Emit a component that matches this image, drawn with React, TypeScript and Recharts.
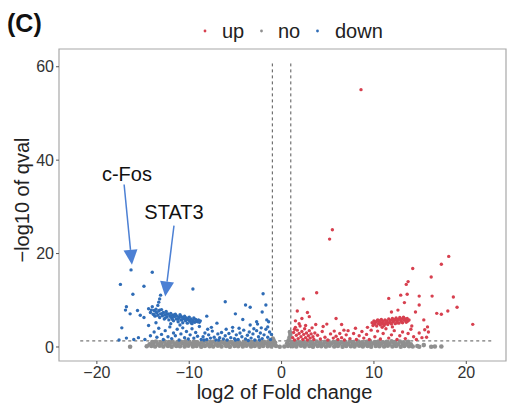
import { ScatterChart, Scatter, XAxis, YAxis, ReferenceLine, ReferenceArea, ReferenceDot, Legend } from "recharts";

// log2 fold change, -log10 q value
const upPts: [number, number][] = [
  [8.6, 55.1], [5.5, 25.1], [5.2, 23.1], [18.1, 19.4], [17.3, 17.7], [14.2, 16.8], [16.2, 15.0], [13.7, 14.0],
  [13.5, 13.4], [11.6, 10.4], [12.9, 11.1], [13.6, 11.3], [14.9, 10.9], [16.3, 10.9], [18.6, 10.7], [19.0, 8.5],
  [18.0, 7.7], [17.3, 7.0], [16.8, 7.2], [20.7, 4.85], [15.8, 4.3], [15.4, 5.8], [14.9, 9.0], [14.5, 7.5],
  [13.3, 9.5], [12.6, 7.9], [11.9, 7.5], [3.8, 11.6], [2.35, 10.3], [1.7, 7.7], [2.8, 7.4], [3.0, 6.5],
  [2.2, 6.1], [1.5, 5.6], [5.9, 6.1], [4.9, 4.9], [6.5, 4.8], [6.75, 3.6], [7.2, 3.5], [15.7, 2.1], [15.9, 3.2],
  [9.8, 5.2], [9.9, 4.6], [10.0, 5.6], [10.1, 4.9], [10.2, 5.3], [10.3, 4.5], [10.4, 5.8], [10.5, 5.0],
  [10.6, 5.4], [10.7, 4.7], [10.8, 5.9], [10.9, 5.1], [11.0, 5.5], [11.1, 4.6], [11.2, 5.8], [11.3, 5.2],
  [11.4, 5.6], [11.5, 4.8], [11.6, 6.0], [11.7, 5.3], [11.8, 5.7], [11.9, 4.9], [12.0, 6.1], [12.1, 5.4],
  [12.2, 5.8], [12.3, 5.0], [12.4, 6.2], [12.5, 5.5], [12.6, 5.9], [12.7, 5.1], [12.8, 6.3], [12.9, 5.6],
  [13.0, 6.0], [13.1, 5.2], [13.2, 6.4], [13.3, 5.7], [13.4, 5.9], [13.5, 5.3], [13.6, 6.1], [13.7, 5.6], [13.8, 5.8],
  [10.0, 5.0], [10.3, 5.5], [10.7, 5.3], [11.0, 4.9], [11.4, 5.3], [11.8, 5.2], [12.1, 5.7], [12.5, 5.2],
  [12.9, 5.9], [13.3, 6.1], [13.6, 5.5], [11.2, 5.0], [10.5, 5.7], [12.3, 5.9], [13.0, 5.4],
  [1.2, 2.0], [1.3, 3.1], [1.4, 1.5], [1.5, 4.2], [1.6, 2.5], [1.7, 3.6], [1.8, 1.8], [1.9, 2.9], [2.0, 4.5],
  [2.1, 2.2], [2.2, 3.3], [2.3, 1.6], [2.4, 2.7], [2.5, 3.9], [2.6, 2.0], [2.7, 3.0], [2.8, 1.5], [2.9, 2.4],
  [3.0, 3.5], [3.1, 1.9], [3.2, 2.8], [3.3, 4.1], [3.4, 2.2], [3.5, 1.6], [3.6, 3.0], [1.4, 3.8], [1.9, 5.0], [2.6, 4.6],
  [3.9, 2.5], [4.2, 1.7], [4.4, 3.3], [4.7, 2.1], [5.0, 1.5], [5.3, 2.8], [5.6, 1.9], [5.7, 3.4], [5.9, 2.3],
  [6.1, 1.6], [6.3, 2.9], [6.5, 2.0], [6.8, 1.5], [7.0, 2.6], [7.4, 1.8], [7.8, 2.9], [8.1, 1.6], [8.4, 2.4],
  [8.7, 3.3], [8.9, 1.9], [9.2, 2.7], [9.5, 1.6], [9.7, 3.6], [9.3, 4.2], [8.0, 4.0], [4.5, 4.4], [3.7, 4.8],
  [10.1, 2.2], [10.4, 3.4], [10.7, 1.7], [11.0, 2.9], [11.3, 3.9], [11.6, 1.9], [11.9, 2.6], [12.2, 3.5],
  [12.5, 1.6], [12.8, 2.4], [13.1, 3.2], [13.4, 1.8], [13.7, 2.9], [14.0, 3.8], [14.3, 2.2], [14.6, 1.6],
  [14.9, 3.0], [15.2, 2.0], [15.5, 3.7], [14.1, 4.5], [10.9, 4.2], [12.0, 4.3],
];

const noPts: [number, number][] = [
  [-14.6, 0.15], [-14.1, 0.2], [-13.7, 0.1], [-13.2, 0.25], [-12.8, 0.1], [-12.3, 0.2], [-11.9, 0.05], [-11.4, 0.2],
  [-11.0, 0.15], [-10.5, 0.1], [-10.1, 0.25], [-9.6, 0.1], [-9.2, 0.2], [-8.7, 0.05], [-8.3, 0.2], [-7.8, 0.15],
  [-7.4, 0.1], [-6.9, 0.25], [-6.5, 0.1], [-6.0, 0.2], [-5.6, 0.05], [-5.1, 0.2], [-4.7, 0.15], [-4.2, 0.1],
  [-3.8, 0.25], [-3.3, 0.1], [-2.9, 0.2], [-2.4, 0.05], [-2.0, 0.2], [-1.5, 0.15], [-1.1, 0.1], [-0.6, 0.2],
  [-0.2, 0.05], [0.3, 0.1], [0.7, 0.2], [1.2, 0.15], [1.6, 0.1], [2.1, 0.25], [2.5, 0.1], [3.0, 0.2], [3.4, 0.05],
  [3.9, 0.2], [4.3, 0.15], [4.8, 0.1], [5.2, 0.25], [5.7, 0.1], [6.1, 0.2], [6.6, 0.05], [7.0, 0.2], [7.5, 0.15],
  [7.9, 0.1], [8.4, 0.25], [8.8, 0.1], [9.3, 0.2], [9.7, 0.05], [10.2, 0.2], [10.6, 0.15], [11.1, 0.1], [11.5, 0.25],
  [12.0, 0.1], [12.4, 0.2], [12.9, 0.05], [13.3, 0.2], [13.8, 0.15], [14.2, 0.1], [14.7, 0.2],
  [-14.3, 0.6], [-13.9, 0.7], [-13.4, 0.55], [-13.0, 0.75], [-12.5, 0.6], [-12.1, 0.7], [-11.6, 0.55], [-11.2, 0.65],
  [-10.7, 0.75], [-10.3, 0.6], [-9.8, 0.7], [-9.4, 0.55], [-8.9, 0.65], [-8.5, 0.75], [-8.0, 0.6], [-7.6, 0.7],
  [-7.1, 0.55], [-6.7, 0.65], [-6.2, 0.75], [-5.8, 0.6], [-5.3, 0.7], [-4.9, 0.55], [-4.4, 0.65], [-4.0, 0.75],
  [-3.5, 0.6], [-3.1, 0.7], [-2.6, 0.55], [-2.2, 0.65], [-1.7, 0.75], [-1.3, 0.6], [-0.8, 0.5], [0.9, 0.5],
  [1.4, 0.6], [1.8, 0.7], [2.3, 0.55], [2.7, 0.65], [3.2, 0.75], [3.6, 0.6], [4.1, 0.7], [4.5, 0.55], [5.0, 0.65],
  [5.4, 0.75], [5.9, 0.6], [6.3, 0.7], [6.8, 0.55], [7.2, 0.65], [7.7, 0.75], [8.1, 0.6], [8.6, 0.7], [9.0, 0.55],
  [9.5, 0.65], [9.9, 0.75], [10.4, 0.6], [10.8, 0.7], [11.3, 0.55], [11.7, 0.65], [12.2, 0.75], [12.6, 0.6],
  [13.1, 0.7], [13.5, 0.55], [14.0, 0.6],
  [-14.0, 1.05], [-13.6, 1.15], [-13.1, 1.0], [-12.7, 1.2], [-12.2, 1.05], [-11.8, 1.15], [-11.3, 1.0], [-10.9, 1.1],
  [-10.4, 1.2], [-10.0, 1.05], [-9.5, 1.15], [-9.1, 1.0], [-8.6, 1.1], [-8.2, 1.2], [-7.7, 1.05], [-7.3, 1.15],
  [-6.8, 1.0], [-6.4, 1.1], [-5.9, 1.2], [-5.5, 1.05], [-5.0, 1.15], [-4.6, 1.0], [-4.1, 1.1], [-3.7, 1.2],
  [-3.2, 1.05], [-2.8, 1.15], [-2.3, 1.0], [-1.9, 1.1], [-1.4, 1.2], [-1.0, 1.05], [1.1, 1.05], [1.5, 1.15],
  [2.0, 1.0], [2.4, 1.1], [2.9, 1.2], [3.3, 1.05], [3.8, 1.15], [4.2, 1.0], [4.7, 1.1], [5.1, 1.2], [5.6, 1.05],
  [6.0, 1.15], [6.5, 1.0], [6.9, 1.1], [7.4, 1.2], [7.8, 1.05], [8.3, 1.15], [8.7, 1.0], [9.2, 1.1], [9.6, 1.2],
  [10.1, 1.05], [10.5, 1.15], [11.0, 1.0], [11.4, 1.1], [11.9, 1.2], [12.3, 1.05], [12.8, 1.15], [13.2, 1.0], [13.7, 1.1],
  [-0.7, 0.9], [-0.85, 1.4], [-0.95, 1.8], [0.6, 0.8], [0.75, 1.4], [0.85, 2.0], [0.95, 2.6], [0.9, 3.2],
  [-16.4, 0.05], [14.9, 0.05], [15.4, 0.4], [16.2, 0.05], [16.6, 0.1], [17.3, 0.1],
];

const downPts: [number, number][] = [
  [-16.3, 16.5], [-14.0, 16.0], [-17.45, 13.4], [-14.9, 13.0], [-16.1, 11.3], [-9.6, 12.4], [-13.1, 11.1],
  [-13.2, 10.3], [-13.3, 9.6], [-13.4, 8.9], [-6.1, 9.7], [-2.0, 11.4], [-3.9, 9.0], [-3.4, 8.5], [-1.7, 9.0],
  [-2.1, 7.5], [-5.0, 7.1], [-8.1, 6.6], [-16.8, 8.6], [-16.9, 7.9], [-16.4, 7.1], [-15.6, 7.8], [-15.3, 6.8],
  [-14.9, 6.3], [-17.3, 4.1], [-17.6, 1.5], [-16.8, 1.9], [-16.0, 1.6], [-4.2, 5.9], [-1.6, 5.8], [-1.4, 5.4],
  [-2.7, 5.4], [-7.0, 5.1], [-9.1, 5.4], [-8.8, 5.6], [-5.3, 4.2], [-3.4, 4.7], [-2.6, 4.9], [-4.6, 4.0],
  [-15.5, 2.0], [-14.8, 1.6],
  [-14.4, 8.2], [-14.2, 7.4], [-14.0, 8.6], [-13.9, 7.0], [-13.8, 7.8], [-13.7, 6.6], [-13.6, 8.1], [-13.5, 7.3],
  [-13.4, 6.8], [-13.3, 7.7], [-13.2, 6.3], [-13.1, 7.1], [-13.0, 8.0], [-12.9, 6.7], [-12.8, 7.4], [-12.7, 6.0],
  [-12.6, 6.9], [-12.5, 7.6], [-12.4, 6.4], [-12.3, 7.1], [-12.2, 5.8], [-12.1, 6.7], [-12.0, 7.2], [-11.9, 6.2],
  [-11.8, 6.8], [-11.7, 5.6], [-11.6, 6.5], [-11.5, 7.0], [-11.4, 6.0], [-11.3, 6.6], [-11.2, 5.4], [-11.1, 6.3],
  [-11.0, 6.9], [-10.9, 5.8], [-10.8, 6.4], [-10.7, 5.2], [-10.6, 6.1], [-10.5, 6.6], [-10.4, 5.6], [-10.3, 6.2],
  [-10.2, 5.1], [-10.1, 5.9], [-10.0, 6.4], [-9.9, 5.5], [-9.8, 6.0], [-9.7, 5.0], [-9.6, 5.7], [-9.5, 6.2],
  [-9.4, 5.3], [-9.3, 5.9], [-9.2, 5.5], [-9.0, 5.8], [-8.9, 5.3],
  [-14.1, 7.9], [-13.6, 7.5], [-13.2, 7.9], [-12.9, 7.2], [-12.4, 7.0], [-12.0, 6.5], [-11.6, 6.9], [-11.2, 6.0],
  [-10.8, 5.8], [-10.4, 6.0], [-10.0, 5.7], [-9.6, 5.4], [-13.8, 6.9], [-12.6, 6.2], [-11.8, 5.9], [-10.9, 6.6], [-9.8, 5.2],
  [-13.8, 3.2], [-13.5, 2.1], [-13.3, 4.0], [-13.0, 2.7], [-12.8, 1.6], [-12.6, 3.5], [-12.3, 2.2], [-12.1, 4.3],
  [-11.9, 1.8], [-11.7, 3.0], [-11.5, 2.4], [-11.3, 3.8], [-11.1, 1.5], [-10.9, 2.8], [-10.7, 4.1], [-10.5, 2.0],
  [-10.3, 3.3], [-10.1, 1.7], [-9.9, 2.6], [-9.7, 3.9], [-9.5, 1.9], [-9.3, 3.1], [-9.1, 2.3], [-8.9, 4.4],
  [-8.7, 1.6], [-14.2, 2.4], [-14.4, 4.6], [-12.0, 5.0], [-11.0, 4.7], [-13.6, 5.2],
  [-8.5, 2.2], [-8.3, 3.0], [-8.1, 1.6], [-7.9, 2.6], [-7.7, 1.9], [-7.5, 3.4], [-7.3, 2.1], [-7.1, 1.5],
  [-6.9, 2.8], [-6.7, 2.0], [-6.5, 3.1], [-6.3, 1.7], [-6.1, 2.4], [-5.9, 1.5], [-5.7, 2.9], [-5.5, 2.0],
  [-5.3, 3.4], [-5.1, 1.8], [-4.9, 2.6], [-4.7, 1.6], [-4.5, 3.0], [-4.3, 2.2], [-4.1, 3.6], [-3.9, 1.7],
  [-3.7, 2.5], [-3.5, 3.2], [-3.3, 1.9], [-3.1, 2.8], [-2.9, 1.5], [-2.7, 3.5], [-2.5, 2.2], [-2.3, 3.0],
  [-2.1, 1.8], [-1.9, 2.6], [-1.7, 3.8], [-1.5, 2.1], [-1.3, 3.2], [-1.2, 1.6], [-1.1, 2.7], [-1.5, 4.3],
  [-2.2, 4.1], [-3.0, 3.9], [-6.0, 3.8], [-7.6, 4.2], [-8.0, 3.8], [-2.4, 1.5], [-3.6, 1.4], [-5.0, 1.5],
  [-6.8, 1.5], [-8.4, 1.5],
];

const xTicks = [-20, -10, 0, 10, 20];
const yTicks = [0, 20, 40, 60];
const legendNames = ["up", "no", "down"];

const UP = "#d7404f";
const NO = "#8f8f8f";
const DOWN = "#2f6cb6";
const ARROW = "#4c80d4";
const FONT = "'Liberation Sans', Arial, Helvetica, sans-serif";

const X_DOMAIN: [number, number] = [-24.1, 24.3];
const Y_DOMAIN: [number, number] = [-3, 63.8];

// gene labels with their arrows (data coordinates)
const notes = [
  { name: "c-Fos", at: [-16.75, 37.0], from: [-17.05, 34.8], to: [-16.2, 17.6] },
  { name: "STAT3", at: [-11.65, 28.9], from: [-11.65, 26.0], to: [-12.6, 10.8] },
];

const rows = (pts: [number, number][]) => pts.map(([x, y]) => ({ x, y }));

const dot = (color: string, r: number) => (p: any) => (
  <circle cx={p.cx} cy={p.cy} r={r} fill={color} />
);

const Arrow = (p: any) => {
  const { x1, y1, x2, y2 } = p;
  const dx = x2 - x1;
  const dy = y2 - y1;
  const len = Math.hypot(dx, dy) || 1;
  const ux = dx / len;
  const uy = dy / len;
  const bx = x2 - ux * 15;
  const by = y2 - uy * 15;
  const nx = -uy * 7;
  const ny = ux * 7;
  return (
    <g>
      <line x1={x1} y1={y1} x2={bx} y2={by} stroke={ARROW} strokeWidth={1.5} />
      <polygon points={`${x2},${y2} ${bx + nx},${by + ny} ${bx - nx},${by - ny}`} fill={ARROW} />
    </g>
  );
};

const colors = [UP, NO, DOWN];
const legendDotX = [205, 261.5, 317.5];
const legendTextX = [222, 278, 335];

const LegendRow = () => (
  <svg width={507} height={49} style={{ display: "block" }}>
    {legendNames.map((n, i) => (
      <g key={n}>
        <circle cx={legendDotX[i]} cy={31} r={1.4} fill={colors[i]} />
        <text x={legendTextX[i]} y={37.5} fontSize={20} fill="#222" fontFamily={FONT}>
          {n}
        </text>
      </g>
    ))}
  </svg>
);

export default function App() {
  return (
    <div style={{ position: "absolute", left: 0, top: 0, width: 507, height: 407, background: "#fff", fontFamily: FONT }}>
      <div style={{ position: "absolute", left: 7, top: 8, fontSize: 25, fontWeight: 700, color: "#111", lineHeight: "30px" }}>
        (C)
      </div>
      <ScatterChart width={507} height={407} margin={{ top: 49, right: 1, bottom: 0, left: 0 }} style={{ fontFamily: FONT }}>
        <Legend
          layout="horizontal"
          verticalAlign="middle"
          align="center"
          wrapperStyle={{ position: "absolute", top: 0, left: 0, width: 507, height: 49 }}
          content={() => <LegendRow />}
        />
        <XAxis
          dataKey="x"
          type="number"
          domain={X_DOMAIN}
          ticks={xTicks}
          allowDataOverflow
          height={46}
          axisLine={false}
          tickSize={3}
          tickMargin={3}
          tickLine={{ stroke: "#555" }}
          tick={{ fill: "#333", fontSize: 16 }}
          tickFormatter={(v: number) => (v < 0 ? `\u2212${Math.abs(v)}` : `${v}`)}
          label={{
            content: ({ viewBox }: any) => (
              <text x={viewBox.x + viewBox.width / 2 + 2} y={viewBox.y + 38} textAnchor="middle" fontSize={20} fill="#222" fontFamily={FONT}>
                log2 of Fold change
              </text>
            ),
          }}
        />
        <YAxis
          dataKey="y"
          type="number"
          domain={Y_DOMAIN}
          ticks={yTicks}
          allowDataOverflow
          width={59}
          axisLine={false}
          tickSize={3}
          tickMargin={2}
          tickLine={{ stroke: "#555" }}
          tick={{ fill: "#333", fontSize: 16 }}
          label={{
            content: ({ viewBox }: any) => {
              const cy = viewBox.y + viewBox.height / 2 - 5;
              return (
                <text x={29} y={cy} transform={`rotate(-90, 29, ${cy})`} textAnchor="middle" fontSize={20} fill="#222" fontFamily={FONT}>
                  {"\u2212log10 of qval"}
                </text>
              );
            },
          }}
        />
        <ReferenceArea x1={X_DOMAIN[0]} x2={X_DOMAIN[1]} y1={Y_DOMAIN[0]} y2={Y_DOMAIN[1]} fill="none" stroke="#a8a8a8" strokeWidth={1.2} ifOverflow="visible" />
        <Scatter name="no" data={rows(noPts)} shape={dot(NO, 2.3)} isAnimationActive={false} />
        <Scatter name="down" data={rows(downPts)} shape={dot(DOWN, 1.7)} isAnimationActive={false} />
        <Scatter name="up" data={rows(upPts)} shape={dot(UP, 1.7)} isAnimationActive={false} />
        <ReferenceLine segment={[{ x: -1, y: -0.3 }, { x: -1, y: 60.7 }]} stroke="#555" strokeDasharray="3 3" ifOverflow="visible" />
        <ReferenceLine segment={[{ x: 1, y: -0.3 }, { x: 1, y: 60.7 }]} stroke="#555" strokeDasharray="3 3" ifOverflow="visible" />
        <ReferenceLine segment={[{ x: -21.8, y: 1.3 }, { x: 22.8, y: 1.3 }]} stroke="#555" strokeDasharray="3 3" ifOverflow="visible" />
        {notes.map((n) => (
          <ReferenceLine
            key={n.name + "-arrow"}
            segment={[{ x: n.from[0], y: n.from[1] }, { x: n.to[0], y: n.to[1] }]}
            shape={Arrow}
            ifOverflow="visible"
          />
        ))}
        {notes.map((n) => (
          <ReferenceDot
            key={n.name}
            x={n.at[0]}
            y={n.at[1]}
            r={0}
            ifOverflow="visible"
            shape={(p: any) => (
              <text x={p.cx} y={p.cy} dy="0.35em" textAnchor="middle" fontSize={20} fill="#111" fontFamily={FONT}>
                {n.name}
              </text>
            )}
          />
        ))}
      </ScatterChart>
    </div>
  );
}
